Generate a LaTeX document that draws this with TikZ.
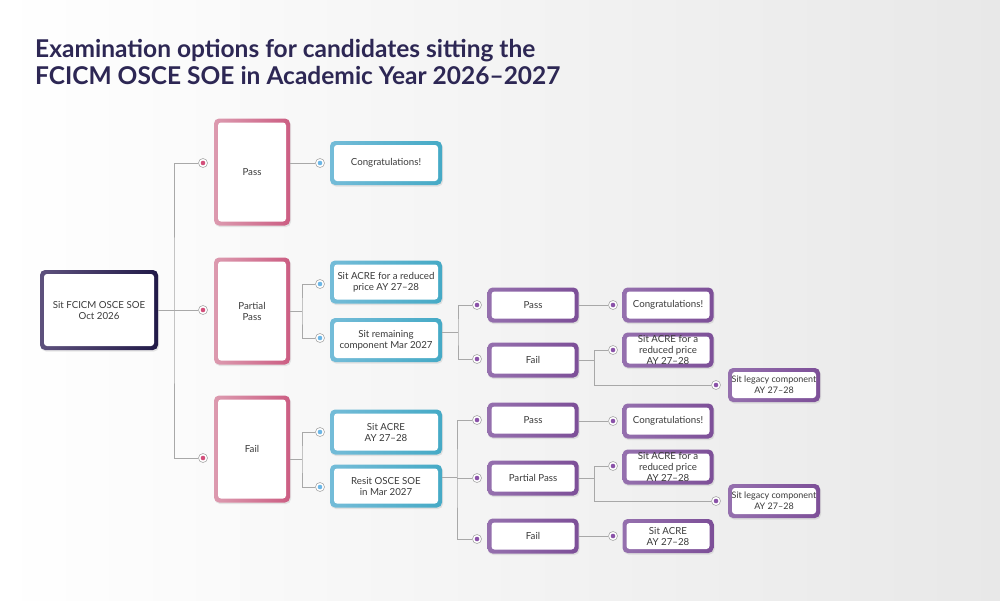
\documentclass[tikz,border=0pt]{standalone}
\usepackage{fontspec}
\setmainfont{Lato}
\usetikzlibrary{shadows}

\definecolor{titlecol}{HTML}{2D2754}
\definecolor{txtcol}{HTML}{3A3A3A}
\definecolor{linecol}{HTML}{A8A8A8}
\definecolor{rootL}{HTML}{5E517D}
\definecolor{rootR}{HTML}{211A48}
\definecolor{pinkL}{HTML}{DC9AAF}
\definecolor{pinkR}{HTML}{CC5E83}
\definecolor{blueL}{HTML}{74BCD8}
\definecolor{blueR}{HTML}{45AAC6}
\definecolor{purpL}{HTML}{9570AE}
\definecolor{purpR}{HTML}{7D4F98}
\definecolor{pinkdot}{HTML}{D24E7A}
\definecolor{bluedot}{HTML}{6CB6E6}
\definecolor{purpdot}{HTML}{8A52A8}

\tikzset{
  box/.style 2 args={left color=#1, right color=#2, rounded corners=5pt,
    inner sep=1pt, align=center, text=txtcol,
    font=\fontsize{9.7}{11}\selectfont,
    drop shadow={opacity=0.18, shadow xshift=1pt, shadow yshift=-1.5pt},
    path picture={\fill[white, rounded corners=3pt]
      ([shift={(4pt,4pt)}]path picture bounding box.south west) rectangle
      ([shift={(-4pt,-4pt)}]path picture bounding box.north east);}},
  rootbox/.style={box={rootL}{rootR}, minimum width=118pt, minimum height=80pt},
  pinkbox/.style={box={pinkL}{pinkR}, minimum width=76pt, minimum height=107pt},
  bluebox/.style={box={blueL}{blueR}, minimum width=112pt, minimum height=44pt},
  purpbox/.style={box={purpL}{purpR}, minimum width=91pt, minimum height=35pt},
  legbox/.style={purpbox, minimum width=92pt, minimum height=34pt,
    font=\fontsize{9}{11}\selectfont},
  dot/.style={circle, draw=black!35, fill=white, line width=0.6pt,
    minimum size=9pt, inner sep=0pt,
    path picture={\fill[#1] (path picture bounding box.center) circle (2.3pt);}},
  link/.style={draw=linecol, line width=0.8pt},
  titletext/.style={anchor=base west, inner sep=0pt, text=titlecol,
    font=\fontsize{24.5}{28}\bfseries}
}

\begin{document}
\begin{tikzpicture}[x=1pt, y=-1pt]
        \useasboundingbox (0,0) rectangle (1000,600);
        \shade[left color=white, right color=black!9] (0,0) rectangle (1000,600);

        \node[titletext] (title1) at (35,57) {Examination options for candidates sitting the};
        \node[titletext] (title2) at (35,84) {FCICM OSCE SOE in Academic Year 2026--2027};

        % boxes
        \node[rootbox] (root) at (99,310) {Sit FCICM OSCE SOE\\Oct 2026};
        \node[pinkbox] (pass) at (252,172) {Pass};
        \node[pinkbox] (ppass) at (252,311) {Partial\\Pass};
        \node[pinkbox] (fail) at (252,449) {Fail};

        \node[bluebox] (congA) at (386,163) {Congratulations!};
        \node[bluebox, minimum height=43pt] (acreA) at (386,282) {Sit ACRE for a reduced\\price AY 27--28};
        \node[bluebox] (remain) at (386,340) {Sit remaining\\component Mar 2027};
        \node[bluebox, minimum height=45pt] (acreB) at (386,432) {Sit ACRE\\AY 27--28};
        \node[bluebox, minimum height=43pt] (resit) at (386,486) {Resit OSCE SOE\\in Mar 2027};

        \node[purpbox] (passB) at (533,305) {Pass};
        \node[purpbox] (failB) at (533,360) {Fail};
        \node[purpbox] (passC) at (533,420) {Pass};
        \node[purpbox] (ppassC) at (533,478) {Partial Pass};
        \node[purpbox] (failC) at (533,536) {Fail};

        \node[purpbox] (congB) at (668,305) {Congratulations!};
        \node[purpbox] (redB) at (668,350) {Sit ACRE for a\\reduced price\\AY 27--28};
        \node[legbox] (legB) at (774,385) {Sit legacy component\\AY 27--28};
        \node[purpbox] (congC) at (668,421) {Congratulations!};
        \node[purpbox] (redC) at (668,467) {Sit ACRE for a\\reduced price\\AY 27--28};
        \node[legbox] (legC) at (774,501) {Sit legacy component\\AY 27--28};
        \node[purpbox, minimum height=34pt] (acreC) at (668,536) {Sit ACRE\\AY 27--28};

        % dots
        \node[dot=pinkdot] (dPass) at (203,163) {};
        \node[dot=pinkdot] (dPPass) at (203,310) {};
        \node[dot=pinkdot] (dFail) at (203,458) {};
        \node[dot=bluedot] (dCongA) at (320,163) {};
        \node[dot=bluedot] (dAcreA) at (320,284) {};
        \node[dot=bluedot] (dRemain) at (320,338) {};
        \node[dot=bluedot] (dAcreB) at (320,432) {};
        \node[dot=bluedot] (dResit) at (320,487) {};
        \node[dot=purpdot] (dPassB) at (477,305) {};
        \node[dot=purpdot] (dFailB) at (477,359) {};
        \node[dot=purpdot] (dPassC) at (477,420) {};
        \node[dot=purpdot] (dPPassC) at (477,478) {};
        \node[dot=purpdot] (dFailC) at (477,539) {};
        \node[dot=purpdot] (dCongB) at (613,305) {};
        \node[dot=purpdot] (dRedB) at (613,350) {};
        \node[dot=purpdot] (dLegB) at (716,385) {};
        \node[dot=purpdot] (dCongC) at (613,421) {};
        \node[dot=purpdot] (dRedC) at (613,466) {};
        \node[dot=purpdot] (dLegC) at (716,501) {};
        \node[dot=purpdot] (dAcreC) at (613,536) {};

        % branch points
        \coordinate (brRoot) at (174,310);
        \coordinate (brPP) at (302,311);
        \coordinate (brFail) at (302,459);
        \coordinate (brRemain) at (458,332);
        \coordinate (brResit) at (457,477);
        \coordinate (brFailB) at (594,360);
        \coordinate (brPPassC) at (594,478);

        % connectors
        \draw[link] (root.east |- dPPass) -- (dPPass);
        \draw[link] (dPass) -| (brRoot) |- (dFail);
        \draw[link] (pass.east |- dCongA) -- (dCongA);
        \draw[link] (ppass.east |- brPP) -- (brPP);
        \draw[link] (dAcreA) -| (brPP) |- (dRemain);
        \draw[link] (fail.east |- brFail) -- (brFail);
        \draw[link] (dAcreB) -| (brFail) |- (dResit);
        \draw[link] (remain.east |- brRemain) -- (brRemain);
        \draw[link] (dPassB) -| (brRemain) |- (dFailB);
        \draw[link] (resit.east |- brResit) -- (brResit);
        \draw[link] (dPassC) -| (brResit) |- (dFailC);
        \draw[link] (brResit |- dPPassC) -- (dPPassC);
        \draw[link] (passB) -- (dCongB);
        \draw[link] (failB.east |- brFailB) -- (brFailB);
        \draw[link] (dRedB) -| (brFailB) |- (dLegB);
        \draw[link] (passC.east |- dCongC) -- (dCongC);
        \draw[link] (ppassC.east |- brPPassC) -- (brPPassC);
        \draw[link] (dRedC) -| (brPPassC) |- (dLegC);
        \draw[link] (failC.east |- dAcreC) -- (dAcreC);
\end{tikzpicture}
\end{document}
